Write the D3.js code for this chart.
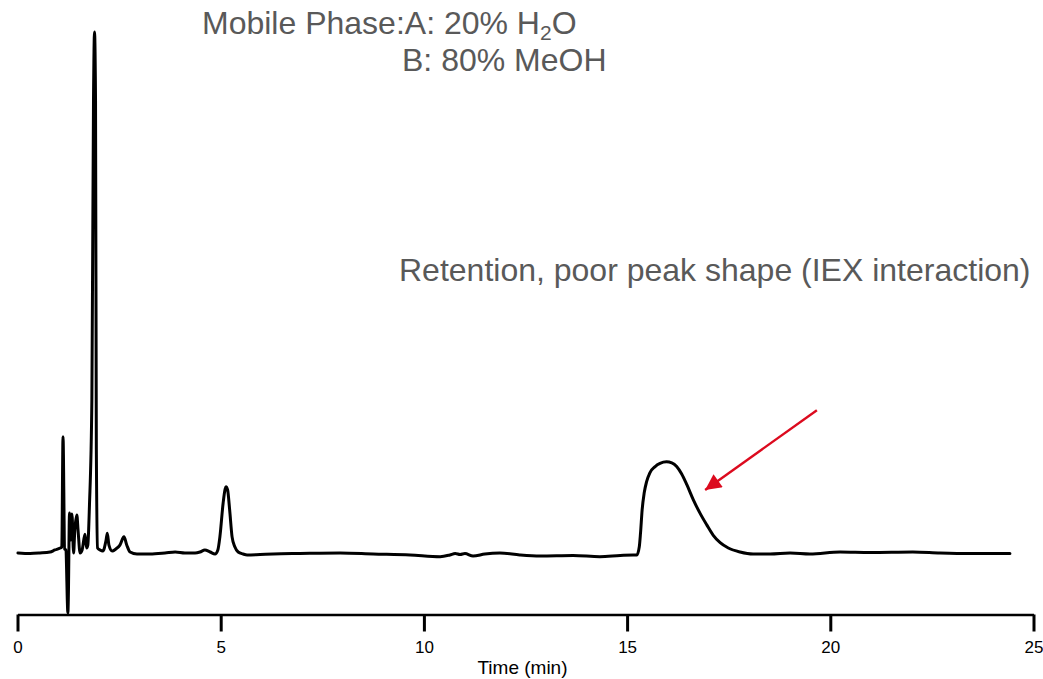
<!DOCTYPE html>
<html>
<head>
<meta charset="utf-8">
<script src="https://cdn.jsdelivr.net/npm/d3@7"></script>
<style>
  html, body { margin: 0; padding: 0; background: #ffffff; }
  svg { display: block; }
  text { font-family: "Liberation Sans", Arial, Helvetica, sans-serif; }
</style>
</head>
<body>
<svg id="chart" width="1043" height="679"></svg>
<script>
// ---- data ----
const timeMin = [
  0.01, 0.31, 0.55, 0.80, 0.92, 1.05, 1.09, 1.12, 1.16, 1.19, 1.24, 1.25,
  1.28, 1.31, 1.34, 1.38, 1.41, 1.46, 1.49, 1.54, 1.59, 1.66, 1.70, 1.73,
  1.77, 1.83, 1.87, 1.895, 1.92, 1.94, 1.97, 2.03, 2.10, 2.18, 2.21, 2.25,
  2.33, 2.42, 2.52, 2.62, 2.69, 2.77, 2.94, 3.26, 3.63, 3.88, 4.12, 4.37,
  4.49, 4.61, 4.74, 4.86, 4.93, 4.98, 5.06, 5.11, 5.13, 5.17, 5.22, 5.28,
  5.35, 5.43, 5.55, 5.65, 5.97, 6.29, 6.95, 7.94, 8.75, 9.66, 10.40, 10.64,
  10.77, 10.89, 11.01, 11.21, 11.50, 11.87, 12.36, 12.86, 13.67, 14.33, 14.83, 15.15,
  15.24, 15.30, 15.33, 15.37, 15.42, 15.48, 15.56, 15.69, 15.81, 15.97, 16.10, 16.22,
  16.34, 16.47, 16.63, 16.79, 16.96, 17.12, 17.29, 17.49, 17.78, 18.10, 18.52, 19.01,
  19.50, 20.24, 20.98, 22.03, 22.70, 23.44, 24.42
];
const signal = [
  0.0, -0.1, 0.0, 0.19, 0.58, 0.96, 1.15, 22.3, 0.77, 0.58, -11.5, -9.0,
  7.7, 2.5, 7.5, 0.0, 4.4, 7.3, 4.4, 0.0, 0.58, 3.6, 0.96, 1.5,
  9.0, 29.4, 86.9, 100, 86.9, 19.8, 0.96, 0.58, 0.38, 2.5, 3.8, 1.5,
  0.38, 0.77, 1.5, 3.1, 1.5, 0.19, -0.19, -0.19, 0.0, 0.19, 0.0, 0.0,
  0.19, 0.58, 0.19, -0.19, 0.58, 3.1, 9.6, 12.3, 12.7, 12.1, 8.3, 3.1,
  1.15, 0.19, -0.19, -0.38, -0.29, -0.19, -0.1, 0.0, -0.19, -0.38, -0.71, -0.38,
  -0.1, -0.29, -0.1, -0.58, -0.19, 0.0, -0.38, -0.58, -0.48, -0.71, -0.48, -0.38,
  -0.38, 1.2, 3.8, 8.3, 11.5, 13.7, 15.4, 16.6, 17.2, 17.5, 17.3, 16.6,
  15.2, 13.1, 10.2, 7.7, 5.4, 3.4, 1.98, 0.96, 0.19, -0.19, -0.19, 0.0,
  -0.19, 0.19, 0.1, 0.19, 0.0, -0.1, -0.1
];
const xTicks = [0, 5, 10, 15, 20, 25];
const xLabel = "Time (min)";
const phaseLineA = ["Mobile Phase:A: 20% H", "2", "O"];
const phaseLineB = "B: 80% MeOH";
const noteText = "Retention, poor peak shape (IEX interaction)";
// arrow annotation, in data coordinates: [time, signal]
const arrowTail = [19.67, 27.4];
const arrowTip = [16.92, 12.1];

// ---- drawing ----
const svg = d3.select("#chart");

const x = d3.scaleLinear().domain([0, 25]).range([17.5, 1033.5]);
const y = d3.scaleLinear().domain([0, 100]).range([553, 32]);
const axisY = 614.5;

// x axis
const xAxis = d3.axisBottom(x)
  .tickValues(xTicks)
  .tickFormat(d3.format("d"))
  .tickSize(17)
  .tickSizeOuter(0)
  .tickPadding(9);

const gx = svg.append("g")
  .attr("transform", `translate(0,${axisY})`)
  .call(xAxis);
gx.select(".domain").attr("stroke", "#000").attr("stroke-width", 2.6);
gx.selectAll(".tick line").attr("stroke", "#000").attr("stroke-width", 3);
gx.selectAll(".tick text")
  .attr("fill", "#000")
  .style("font-size", "17px")
  .style("font-family", "'Liberation Sans', Arial, sans-serif");

svg.append("text")
  .attr("x", 522.5)
  .attr("y", 674)
  .attr("text-anchor", "middle")
  .style("font-size", "19px")
  .attr("fill", "#000")
  .text(xLabel);

// chromatogram trace
const pts = timeMin.map((t, i) => [t, signal[i]]);
const line = d3.line()
  .x(d => x(d[0]))
  .y(d => y(d[1]))
  .curve(d3.curveMonotoneX);

svg.append("path")
  .datum(pts)
  .attr("fill", "none")
  .attr("stroke", "#000")
  .attr("stroke-width", 3)
  .attr("stroke-linejoin", "round")
  .attr("stroke-linecap", "round")
  .attr("d", line);

// annotations
const grey = "#595959";
const tA = svg.append("text")
  .attr("x", 202)
  .attr("y", 34)
  .attr("fill", grey)
  .style("font-size", "32px");
tA.append("tspan").text(phaseLineA[0]);
tA.append("tspan").attr("dy", 6).style("font-size", "21px").text(phaseLineA[1]);
tA.append("tspan").attr("dy", -6).text(phaseLineA[2]);

svg.append("text")
  .attr("x", 402)
  .attr("y", 71)
  .attr("fill", grey)
  .style("font-size", "32px")
  .text(phaseLineB);

svg.append("text")
  .attr("x", 399)
  .attr("y", 281)
  .attr("fill", grey)
  .style("font-size", "32px")
  .text(noteText);

// red arrow
const red = "#dc0a1e";
const defs = svg.append("defs");
defs.append("marker")
  .attr("id", "arrowhead")
  .attr("viewBox", "0 0 10 10")
  .attr("refX", 10)
  .attr("refY", 5)
  .attr("markerUnits", "userSpaceOnUse")
  .attr("markerWidth", 20)
  .attr("markerHeight", 16)
  .attr("orient", "auto")
  .append("path")
  .attr("d", "M0,0 L10,5 L0,10 Z")
  .attr("fill", red);

svg.append("line")
  .attr("x1", x(arrowTail[0]))
  .attr("y1", y(arrowTail[1]))
  .attr("x2", x(arrowTip[0]))
  .attr("y2", y(arrowTip[1]))
  .attr("stroke", red)
  .attr("stroke-width", 2.4)
  .attr("marker-end", "url(#arrowhead)");
</script>
</body>
</html>
